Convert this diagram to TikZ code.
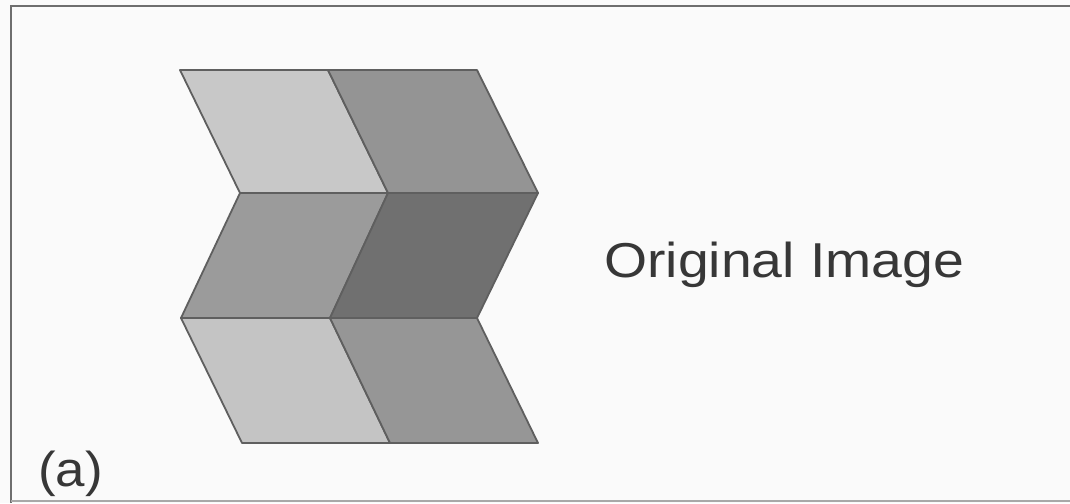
\documentclass[tikz,border=0pt]{standalone}
\usepackage{fontspec}
\setmainfont{Liberation Sans}
\definecolor{bg}{RGB}{250,250,250}
\definecolor{edge}{RGB}{95,95,95}
\definecolor{frame}{RGB}{110,110,110}
\definecolor{txt}{RGB}{55,55,55}
\definecolor{gA}{RGB}{200,200,200}
\definecolor{gB}{RGB}{148,148,148}
\definecolor{gC}{RGB}{155,155,155}
\definecolor{gD}{RGB}{112,112,112}
\definecolor{gE}{RGB}{196,196,196}
\definecolor{gF}{RGB}{150,150,150}
\tikzset{
  tile/.style={draw=edge, line width=1.8pt, line join=round},
  lbl/.style={inner sep=0pt, anchor=base west, text=txt, font=\fontsize{49}{52}\selectfont}
}
\begin{document}
\begin{tikzpicture}[x=1pt,y=-1pt]
\fill[bg] (0,0) rectangle (1070,503);
\useasboundingbox (0,0) rectangle (1070,503);
% frame
\draw[frame, line width=2pt] (11,503) -- (11,6) -- (1070,6);
\draw[frame!60, line width=2pt] (11,501) -- (1070,501);
% coordinates
\coordinate (t1) at (180,70);  \coordinate (t2) at (328,70);  \coordinate (t3) at (477,70);
\coordinate (m1) at (240,193); \coordinate (m2) at (388,193); \coordinate (m3) at (538,193);
\coordinate (n1) at (181,318); \coordinate (n2) at (330,318); \coordinate (n3) at (477,318);
\coordinate (b1) at (242,443); \coordinate (b2) at (390,443); \coordinate (b3) at (538,443);
% tiles
\filldraw[tile, fill=gA] (t1) -- (t2) -- (m2) -- (m1) -- cycle;
\filldraw[tile, fill=gB] (t2) -- (t3) -- (m3) -- (m2) -- cycle;
\filldraw[tile, fill=gC] (m1) -- (m2) -- (n2) -- (n1) -- cycle;
\filldraw[tile, fill=gD] (m2) -- (m3) -- (n3) -- (n2) -- cycle;
\filldraw[tile, fill=gE] (n1) -- (n2) -- (b2) -- (b1) -- cycle;
\filldraw[tile, fill=gF] (n2) -- (n3) -- (b3) -- (b2) -- cycle;
% labels
\node[lbl] (title) at (604,277) {\scalebox{1.13}[1]{Original Image}};
\node[lbl] (tag) at (38,486) {\scalebox{1.08}[1]{(a)}};
\end{tikzpicture}
\end{document}
